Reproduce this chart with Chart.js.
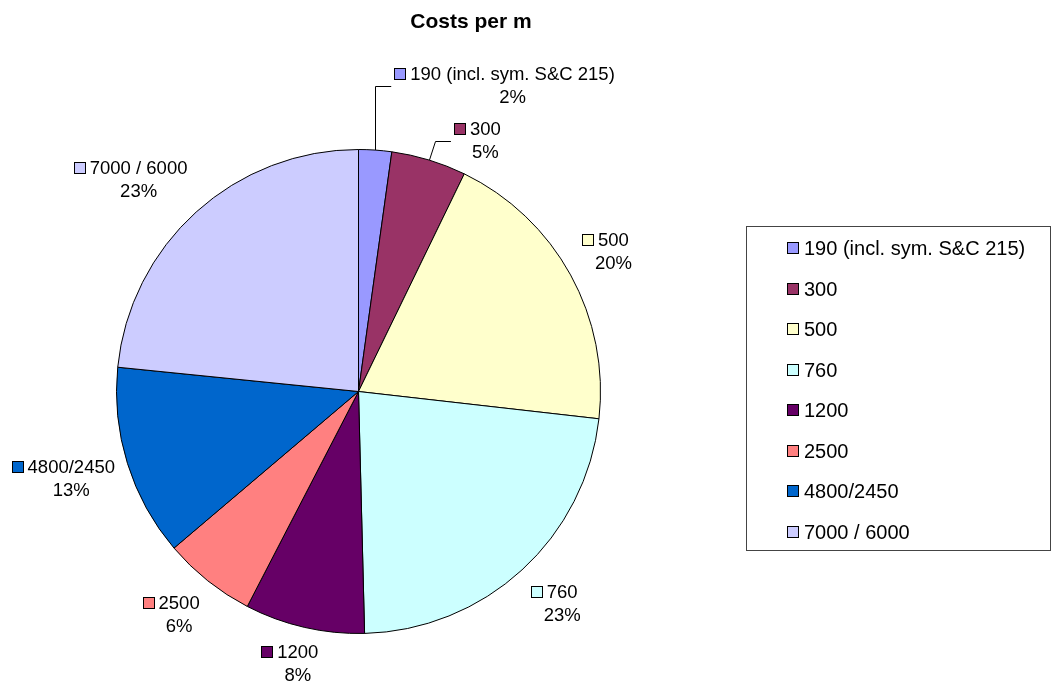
<!DOCTYPE html>
<html>
<head>
<meta charset="utf-8">
<script src="https://cdn.jsdelivr.net/npm/chart.js@4"></script>
<style>
  html, body { margin: 0; padding: 0; background: #fff; }
  #wrap { width: 1051px; height: 684px; position: relative; }
</style>
</head>
<body>
<div id="wrap"><canvas id="costsChart"></canvas></div>
<script>
const categories = ['190 (incl. sym. S&C 215)', '300', '500', '760', '1200', '2500', '4800/2450', '7000 / 6000'];
// share of costs per m (percent)
const shares = [2.2, 5.0, 19.6, 22.8, 8.0, 6.2, 12.8, 23.4];
const colors = ['#9999FF', '#993366', '#FFFFCC', '#CCFFFF', '#660066', '#FF8080', '#0066CC', '#CCCCFF'];

const FONT = '"Liberation Sans", Arial, sans-serif';

// title, outside labels and boxed legend, drawn like the old Excel chart
const excelLook = {
  id: 'excelLook',
  afterDatasetsDraw(chart, args, opts) {
    const ctx = chart.ctx;
    const meta = chart.getDatasetMeta(0);
    const data = chart.data.datasets[0].data;
    const bg = chart.data.datasets[0].backgroundColor;
    const total = data.reduce((a, b) => a + b, 0);
    ctx.save();

    // title
    ctx.fillStyle = '#000';
    ctx.font = 'bold 21px ' + FONT;
    ctx.textAlign = 'center';
    ctx.textBaseline = 'middle';
    ctx.fillText(opts.title, 471, 22);

    // data labels
    ctx.font = '18.5px ' + FONT;
    ctx.lineWidth = 1;
    meta.data.forEach((arc, i) => {
      const p = arc.getProps(['x', 'y', 'startAngle', 'endAngle', 'outerRadius'], true);
      const mid = (p.startAngle + p.endAngle) / 2;
      const dx = Math.cos(mid), dy = Math.sin(mid);
      const name = chart.data.labels[i];
      const pct = Math.round(data[i] / total * 100) + '%';
      const tw = ctx.measureText(name).width;
      const w = 16 + tw, h = 46;
      let left, cy;
      const lead = opts.leaders[i];
      if (lead) {
        const ax = p.x + p.outerRadius * dx, ay = p.y + p.outerRadius * dy;
        const ex = ax + lead[0], ey = ay + lead[1];
        const qx = ex + 16;
        ctx.strokeStyle = '#000';
        ctx.beginPath();
        ctx.moveTo(Math.round(ax) + 0.5, ay);
        ctx.lineTo(Math.round(ex) + 0.5, Math.round(ey) + 0.5);
        ctx.lineTo(qx, Math.round(ey) + 0.5);
        ctx.stroke();
        left = qx + 3;
        cy = ey;
      } else {
        const rr = p.outerRadius + 13;
        const px = p.x + rr * dx, py = p.y + rr * dy;
        const ox = Math.max(-1, Math.min(1, 1.8 * dx));
        const oy = Math.max(-1, Math.min(1, 1.6 * dy));
        left = px + ox * w / 2 - w / 2;
        cy = py + oy * h / 2 + 1;
      }
      const y1 = Math.round(cy - 12), y2 = Math.round(cy + 11);
      ctx.fillStyle = bg[i];
      ctx.fillRect(Math.round(left) + 0.5, y1 - 6 + 0.5, 11, 11);
      ctx.strokeStyle = '#000';
      ctx.strokeRect(Math.round(left) + 0.5, y1 - 6 + 0.5, 11, 11);
      ctx.fillStyle = '#000';
      ctx.textAlign = 'left';
      ctx.fillText(name, left + 16, y1 + 1);
      ctx.textAlign = 'center';
      ctx.fillText(pct, left + 16 + tw / 2, y2 + 1);
    });

    // legend box
    ctx.strokeStyle = '#444';
    ctx.strokeRect(746.5, 226.5, 304, 324);
    ctx.font = '20px ' + FONT;
    ctx.textAlign = 'left';
    chart.data.labels.forEach((lab, i) => {
      const y = Math.round(248 + i * 40.5);
      ctx.fillStyle = bg[i];
      ctx.fillRect(787.5, y - 6 + 0.5, 11, 11);
      ctx.strokeStyle = '#000';
      ctx.strokeRect(787.5, y - 6 + 0.5, 11, 11);
      ctx.fillStyle = '#000';
      ctx.fillText(lab, 804, y + 1);
    });
    ctx.restore();
  }
};

new Chart(document.getElementById('costsChart'), {
  type: 'pie',
  data: {
    labels: categories,
    datasets: [{
      data: shares,
      backgroundColor: colors,
      borderColor: '#000',
      borderWidth: 1
    }]
  },
  options: {
    responsive: true,
    maintainAspectRatio: false,
    animation: false,
    events: [],
    layout: { padding: { left: 116, right: 450, top: 149, bottom: 50 } },
    plugins: {
      legend: { display: false },
      title: { display: false },
      tooltip: { enabled: false },
      excelLook: {
        title: 'Costs per m',
        leaders: { 0: [0, -64], 1: [6, -19] }
      }
    }
  },
  plugins: [excelLook]
});
</script>
</body>
</html>
